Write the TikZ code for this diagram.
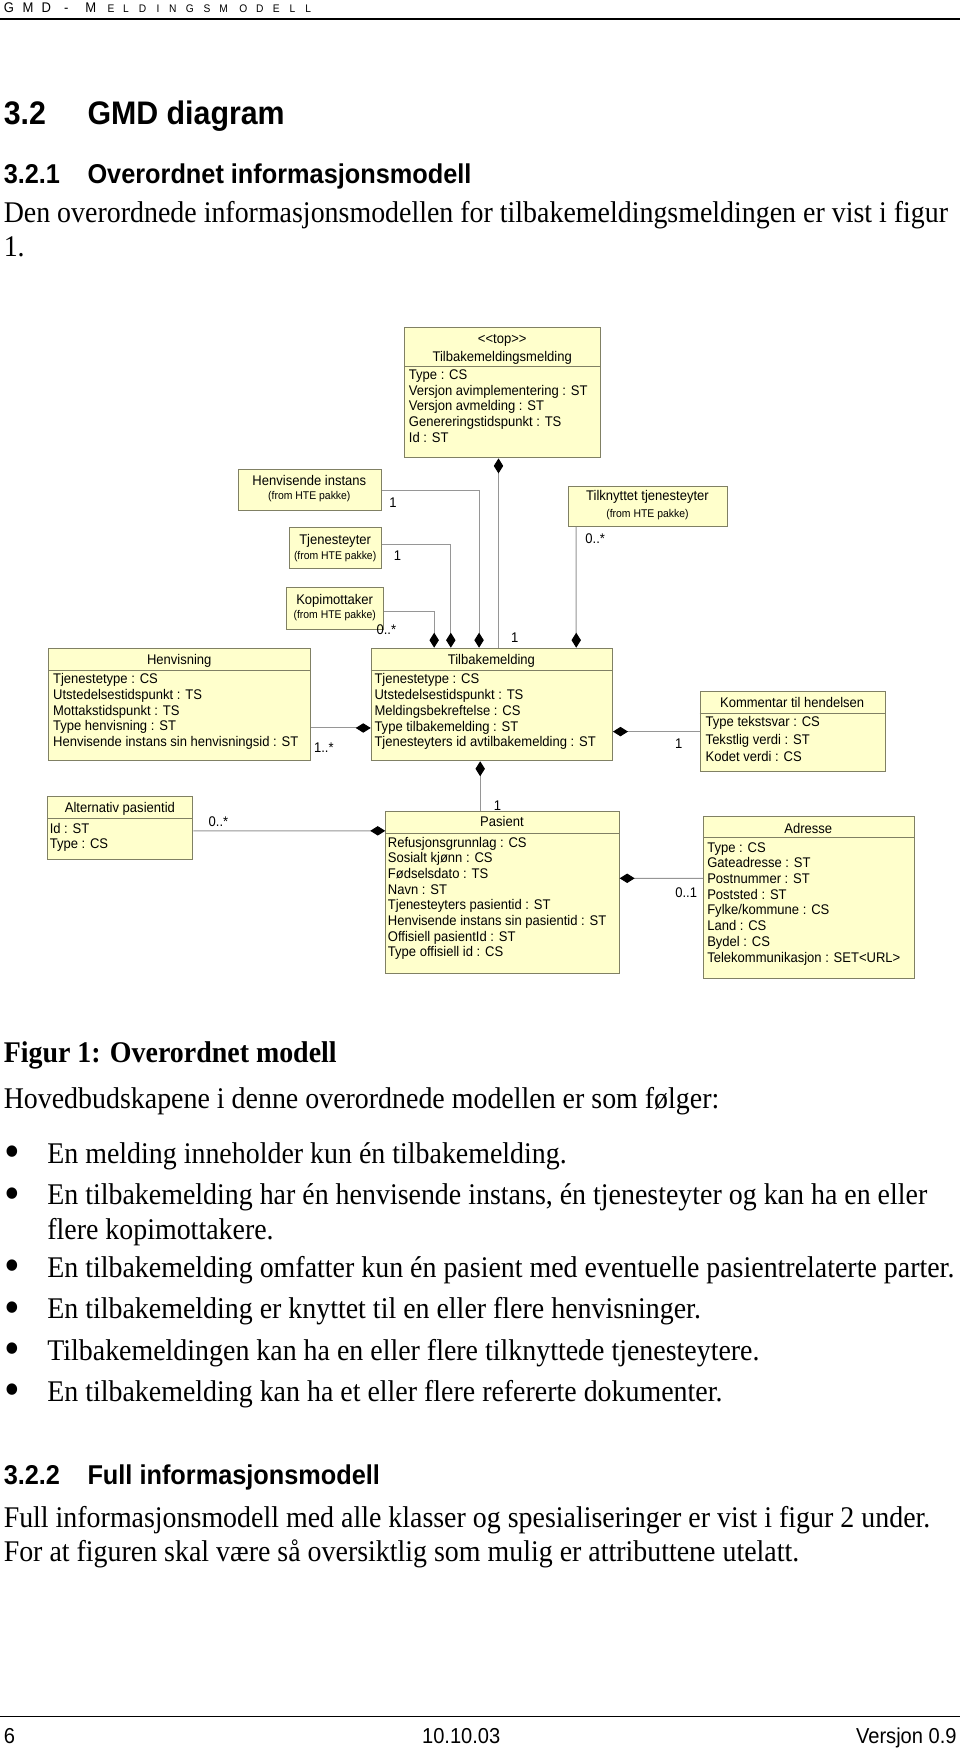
\documentclass[tikz,border=0pt]{standalone}
\usepackage{fontspec}
\setmainfont[FakeStretch=0.93]{Liberation Serif}
\setsansfont[FakeStretch=0.93]{Liberation Sans}
\usetikzlibrary{arrows.meta,calc}

\definecolor{classfill}{RGB}{255,255,204}
\definecolor{classline}{RGB}{128,128,100}
\definecolor{assocgray}{RGB}{150,150,150}

\begin{document}
\begin{tikzpicture}[x=0.558pt,y=-0.558pt,
  classbox/.style={draw=classline,fill=classfill,line width=0.5pt,anchor=north west,inner sep=0pt},
  classname/.style={font=\sffamily\fontsize{7}{8}\selectfont,anchor=base,inner sep=0pt},
  pkgnote/.style={font=\sffamily\fontsize{5.6}{6.5}\selectfont,anchor=base,inner sep=0pt},
  attr/.style={font=\sffamily\fontsize{7}{8}\selectfont,anchor=base west,inner sep=0pt},
  mult/.style={font=\sffamily\fontsize{7}{8}\selectfont,anchor=base,inner sep=0pt},
  assoc/.style={draw=assocgray,line width=0.5pt},
  compend/.style={-{Diamond[length=7.5pt,width=4.7pt,color=black]}},
  compstart/.style={{Diamond[length=7.5pt,width=4.7pt,color=black]}-},
  bodytext/.style={font=\rmfamily\fontsize{15}{17}\selectfont,anchor=base west,inner sep=0pt},
  bulletmark/.style={font=\rmfamily\bfseries\fontsize{21}{17}\selectfont,anchor=base,inner sep=0pt},
  headbig/.style={font=\sffamily\bfseries\fontsize{16.3}{19}\selectfont,anchor=base west,inner sep=0pt},
  headsmall/.style={font=\sffamily\bfseries\fontsize{13.6}{16}\selectfont,anchor=base west,inner sep=0pt},
  hdrbig/.style={font=\sffamily\fontsize{7}{8}\selectfont,anchor=base west,inner sep=0pt},
  hdrsmall/.style={font=\sffamily\fontsize{5.5}{6}\selectfont,anchor=base west,inner sep=0pt},
  foot/.style={font=\sffamily\fontsize{10.8}{12}\selectfont,inner sep=0pt}
]
\fill[white] (0,0) rectangle (860,1568);
\useasboundingbox (0,0) rectangle (860,1568);

% page header
\foreach \ch/\xx [count=\i] in {G/3,M/20,D/37,-/57,M/76}
  \node[hdrbig] (hdr\i) at (\xx,11) {\ch};
\foreach \ch/\xx [count=\i] in {E/96,L/110,D/124,I/140,N/151,G/166,S/182,M/196,O/214,D/229,E/244,L/259,L/273}
  \node[hdrsmall] (hds\i) at (\xx,11) {\ch};
\draw[line width=0.8pt] (0,17) -- (860,17);

% headings and text above the figure
\node[headbig] (h32n) at (3,111.5) {3.2};
\node[headbig] (h32t) at (78,111.5) {GMD diagram};
\node[headsmall] (h321n) at (3,164.3) {3.2.1};
\node[headsmall] (h321t) at (78,164.3) {Overordnet informasjonsmodell};
\node[bodytext] (intro1) at (3,199) {Den overordnede informasjonsmodellen for tilbakemeldingsmeldingen er vist i figur};
\node[bodytext] (intro2) at (3,230) {1.};

% classes
\node[classbox,minimum width=97.93pt,minimum height=65.06pt] (msg) at (362,293) {};
\draw[classline,line width=0.5pt] (msg.west |- 0,327.9) -- (msg.east |- 0,327.9);
\node[classname] (msg-s) at (449.75,308) {\textless\kern0pt\textless top\textgreater\kern0pt\textgreater};
\node[classname] (msg-t) at (449.75,323.5) {Tilbakemeldingsmelding};
\foreach \a [count=\i] in {Type : CS,Versjon avimplementering : ST,Versjon avmelding : ST,Genereringstidspunkt : TS,Id : ST}
  \node[attr] (msg-a\i) at (365.8,{340+(\i-1)*14.0}) {\a};

\node[classbox,minimum width=71.42pt,minimum height=20.65pt] (henvinst) at (213,420) {};
\node[classname] (henvinst-t) at (277,434.6) {Henvisende instans};
\node[pkgnote] (henvinst-p) at (277,447.3) {(from HTE pakke)};

\node[classbox,minimum width=45.92pt,minimum height=20.65pt] (tjen) at (259,472) {};
\node[classname] (tjen-t) at (300.1,487.7) {Tjenesteyter};
\node[pkgnote] (tjen-p) at (300.1,501.3) {(from HTE pakke)};

\node[classbox,minimum width=48.77pt,minimum height=20.81pt] (kopi) at (256,525.6) {};
\node[classname] (kopi-t) at (299.7,540.9) {Kopimottaker};
\node[pkgnote] (kopi-p) at (299.7,554.3) {(from HTE pakke)};

\node[classbox,minimum width=79.46pt,minimum height=20.09pt] (tilkn) at (508.6,435) {};
\node[classname] (tilkn-t) at (579.8,448.4) {Tilknyttet tjenesteyter};
\node[pkgnote] (tilkn-p) at (579.8,463) {(from HTE pakke)};

\node[classbox,minimum width=130.80pt,minimum height=56.25pt] (henv) at (43.3,580) {};
\draw[classline,line width=0.5pt] (henv.west |- 0,600.2) -- (henv.east |- 0,600.2);
\node[classname] (henv-t) at (160.5,594.6) {Henvisning};
\foreach \a [count=\i] in {Tjenestetype : CS,Utstedelsestidspunkt : TS,Mottakstidspunkt : TS,Type henvisning : ST,Henvisende instans sin henvisningsid : ST}
  \node[attr] (henv-a\i) at (47.2,{612.3+(\i-1)*14.03}) {\a};

\node[classbox,minimum width=120.53pt,minimum height=56.25pt] (tbm) at (332,580) {};
\draw[classline,line width=0.5pt] (tbm.west |- 0,600.2) -- (tbm.east |- 0,600.2);
\node[classname] (tbm-t) at (440,594.6) {Tilbakemelding};
\foreach \a [count=\i] in {Tjenestetype : CS,Utstedelsestidspunkt : TS,Meldingsbekreftelse : CS,Type tilbakemelding : ST,Tjenesteyters id avtilbakemelding : ST}
  \node[attr] (tbm-a\i) at (335,{612.3+(\i-1)*14.1}) {\a};

\node[classbox,minimum width=92.46pt,minimum height=39.84pt] (komm) at (626.5,619) {};
\draw[classline,line width=0.5pt] (komm.west |- 0,639) -- (komm.east |- 0,639);
\node[classname] (komm-t) at (709.35,633.2) {Kommentar til hendelsen};
\foreach \a [count=\i] in {Type tekstsvar : CS,Tekstlig verdi : ST,Kodet verdi : CS}
  \node[attr] (komm-a\i) at (631.6,{651+(\i-1)*15.4}) {\a};

\node[classbox,minimum width=72.48pt,minimum height=31.53pt] (alt) at (42.4,713) {};
\draw[classline,line width=0.5pt] (alt.west |- 0,733) -- (alt.east |- 0,733);
\node[classname] (alt-t) at (107.35,727.5) {Alternativ pasientid};
\foreach \a [count=\i] in {Id : ST,Type : CS}
  \node[attr] (alt-a\i) at (44.2,{746+(\i-1)*13.5}) {\a};

\node[classbox,minimum width=116.62pt,minimum height=81.02pt] (pas) at (345,726.2) {};
\draw[classline,line width=0.5pt] (pas.west |- 0,746) -- (pas.east |- 0,746);
\node[classname] (pas-t) at (449.5,740) {Pasient};
\foreach \a [count=\i] in {Refusjonsgrunnlag : CS,Sosialt kjønn : CS,Fødselsdato : TS,Navn : ST,Tjenesteyters pasientid : ST,Henvisende instans sin pasientid : ST,Offisiell pasientId : ST,Type offisiell id : CS}
  \node[attr] (pas-a\i) at (347,{758.6+(\i-1)*14.03}) {\a};

\node[classbox,minimum width=105.29pt,minimum height=80.80pt] (adr) at (629.5,731) {};
\draw[classline,line width=0.5pt] (adr.west |- 0,750) -- (adr.east |- 0,750);
\node[classname] (adr-t) at (723.85,746) {Adresse};
\foreach \a [count=\i] in {Type : CS,Gateadresse : ST,Postnummer : ST,Poststed : ST,Fylke/kommune : CS,Land : CS,Bydel : CS,Telekommunikasjon : SET<URL>}
  \node[attr] (adr-a\i) at (633,{763+(\i-1)*14.09}) {\a};

% associations
\draw[assoc,compstart] ($(msg.south west)+(84.4,0)$) -- ($(tbm.north west)+(114.4,0)$);
\draw[assoc,compend] ($(henvinst.north east)+(0,19.5)$) -| ($(tbm.north west)+(97,0)$);
\draw[assoc,compend] ($(tjen.north east)+(0,15.3)$) -| ($(tbm.north west)+(71.7,0)$);
\draw[assoc,compend] ($(kopi.north east)+(0,22)$) -| ($(tbm.north west)+(56.8,0)$);
\draw[assoc,compend] ($(tilkn.south west)+(7.4,0)$) -- ($(tbm.north west)+(184,0)$);
\draw[assoc,compend] ($(henv.north east)+(0,71.9)$) -- ($(tbm.north west)+(0,71.9)$);
\draw[assoc,compstart] (komm.west -| tbm.east) -- (komm.west);
\draw[assoc,compstart] ($(tbm.south west)+(98,0)$) -- ($(pas.north west)+(85,0)$);
\draw[assoc,compend] ($(alt.north east)+(0,31)$) -- ($(pas.north west)+(0,17.8)$);
\draw[assoc,compstart] ($(pas.north east)+(0,60.3)$) -- ($(adr.north west)+(0,55.5)$);

% multiplicities
\node[mult] (m-henvinst) at (352,454.6) {1};
\node[mult] (m-tjen) at (356,502) {1};
\node[mult] (m-kopi) at (346,568) {0..*};
\node[mult] (m-msg) at (461,575.6) {1};
\node[mult] (m-tilkn) at (533,487) {0..*};
\node[mult] (m-henv) at (290,674) {1..*};
\node[mult] (m-komm) at (607.7,669.9) {1};
\node[mult] (m-alt) at (195.6,740) {0..*};
\node[mult] (m-pas) at (445.5,726) {1};
\node[mult] (m-adr) at (614.5,804) {0..1};

% caption and text below the figure
\node[bodytext,font=\rmfamily\bfseries\fontsize{15}{17}\selectfont] (cap) at (3,951) {Figur 1: Overordnet modell};
\node[bodytext] (lead) at (3,993) {Hovedbudskapene i denne overordnede modellen er som følger:};
\foreach \yy/\txt [count=\i] in {1042/{En melding inneholder kun én tilbakemelding.},1079/{En tilbakemelding har én henvisende instans, én tjenesteyter og kan ha en eller},1144/{En tilbakemelding omfatter kun én pasient med eventuelle pasientrelaterte parter.},1181/{En tilbakemelding er knyttet til en eller flere henvisninger.},1218/{Tilbakemeldingen kan ha en eller flere tilknyttede tjenesteytere.},1255/{En tilbakemelding kan ha et eller flere refererte dokumenter.}}
{
  \node[bulletmark] (bul\i) at (11,{\yy+2}) {\textbullet};
  \node[bodytext] (item\i) at (42,\yy) {\txt};
}
\node[bodytext] (item2b) at (42,1110) {flere kopimottakere.};
\node[headsmall] (h322n) at (3,1329.3) {3.2.2};
\node[headsmall] (h322t) at (78,1329.3) {Full informasjonsmodell};
\node[bodytext] (full1) at (3,1368) {Full informasjonsmodell med alle klasser og spesialiseringer er vist i figur 2 under.};
\node[bodytext] (full2) at (3,1398) {For at figuren skal være så oversiktlig som mulig er attributtene utelatt.};

% page footer
\draw[line width=0.6pt] (0,1537) -- (860,1537);
\node[foot,anchor=base west] (fpage) at (3,1561) {6};
\node[foot,anchor=base] (fdate) at (413,1561) {10.10.03};
\node[foot,anchor=base east] (fver) at (857,1561) {Versjon 0.9};
\end{tikzpicture}
\end{document}
